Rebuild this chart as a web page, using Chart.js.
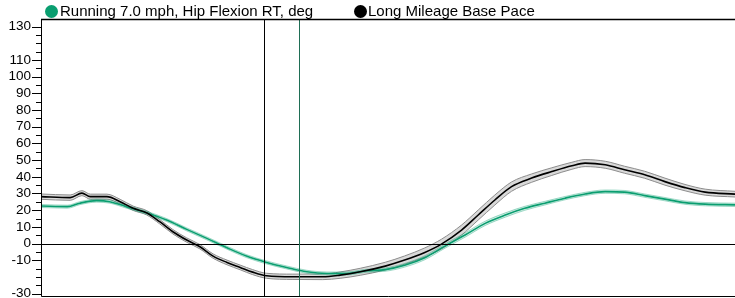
<!DOCTYPE html>
<html>
<head>
<meta charset="utf-8">
<script src="https://cdn.jsdelivr.net/npm/chart.js@4"></script>
<style>
  body { margin: 0; background: #fff; }
  #wrap { position: relative; width: 735px; height: 298px; }
  canvas { display: block; }
  .item { position: absolute; top: 3px; font: 15px 'Liberation Sans', Arial, sans-serif; line-height: 16px; color: #000; white-space: nowrap; }
  .dot { position: absolute; width: 13px; height: 13px; border-radius: 50%; top: 4.5px; }
</style>
</head>
<body>
<div id="wrap">
  <canvas id="hipChart" width="735" height="298"></canvas>
  <span class="dot" style="left:45px; background:#0a9e70;"></span>
  <span class="item" style="left:60px;">Running 7.0 mph, Hip Flexion RT, deg</span>
  <span class="dot" style="left:354px; background:#000;"></span>
  <span class="item" style="left:368px;">Long Mileage Base Pace</span>
</div>
<script>
// % of gait cycle / hip flexion in degrees
const baseX = [0, 4.2, 5.9, 7.1, 9.5, 11.4, 13.3, 15.2, 17.1, 19.0, 21.0, 22.9, 24.8, 26.8, 28.7, 30.5, 32.5, 36.3, 40.6, 43.1, 46.0, 49.6, 52.4, 55.3, 57.7, 60.6, 63.0, 65.4, 67.8, 70.7, 73.6, 76.5, 78.4, 81.3, 84.1, 87.0, 89.9, 92.8, 95.7, 100];
const baseY = [28.1, 27.5, 30.2, 28.1, 28.1, 25.1, 21.1, 18.5, 13.1, 7.1, 2.1, -1.9, -7.5, -11.3, -14.3, -17.1, -19.3, -19.9, -19.9, -18.9, -16.9, -13.5, -9.9, -5.3, -0.3, 8.1, 17.1, 26.1, 34.1, 39.2, 43.1, 46.6, 48.2, 47.2, 44.2, 41.2, 37.1, 33.5, 30.8, 29.6];
const baseSd = [1.6, 1.6, 1.5, 1.5, 1.5, 1.4, 1.3, 1.3, 1.3, 1.3, 1.3, 1.3, 1.3, 1.4, 1.4, 1.5, 1.5, 1.6, 1.7, 1.9, 2.1, 2.3, 2.5, 2.7, 2.9, 3.0, 3.0, 3.0, 2.8, 2.5, 2.3, 2.1, 2.1, 2.1, 2.1, 2.1, 2.1, 1.9, 1.8, 1.7];

const runX = [0, 3.8, 5.6, 8.0, 9.9, 12.3, 15.2, 18.1, 21.0, 23.9, 26.8, 29.6, 32.5, 35.4, 38.3, 41.2, 44.0, 46.9, 49.6, 52.4, 55.3, 58.2, 61.1, 64.0, 66.9, 69.7, 72.6, 75.5, 78.4, 81.3, 84.1, 87.0, 89.9, 92.8, 95.7, 100];
const runY = [22.5, 22.1, 24.2, 25.7, 25.1, 22.1, 18.5, 14.1, 8.5, 3.1, -2.5, -7.5, -11.3, -14.3, -16.9, -17.9, -17.9, -16.3, -15.6, -13.0, -8.5, -1.5, 5.1, 12.1, 17.1, 21.1, 24.2, 27.2, 29.7, 31.1, 30.8, 28.7, 26.6, 24.5, 23.6, 23.2];
const runSd = [0.9, 0.9, 0.9, 0.9, 0.9, 0.9, 0.9, 0.9, 0.9, 0.9, 0.9, 0.9, 0.9, 0.9, 0.9, 0.9, 0.9, 0.9, 1.0, 1.1, 1.2, 1.3, 1.3, 1.3, 1.3, 1.2, 1.1, 1.0, 1.0, 1.0, 1.0, 1.0, 1.0, 1.0, 1.0, 1.0];

const yTickLabels = [130, 110, 100, 90, 80, 70, 60, 50, 40, 30, 20, 10, 0, -10, -30];
const markers = [
  { x: 32.2, color: '#000' },
  { x: 37.2, color: '#1f6e55' }
];

const GREEN = '#0a9e70';

const pts = (xs, ys) => xs.map((x, i) => ({ x: x, y: ys[i] }));
const band = (xs, ys, sd, sign) => xs.map((x, i) => ({ x: x, y: ys[i] + sign * sd[i] }));

// zero line, marker lines, axis frame and tick marks
const frame = {
  id: 'frame',
  afterDatasetsDraw(chart) {
    const { ctx, chartArea: a, scales: { x, y } } = chart;
    ctx.save();
    ctx.lineWidth = 1;
    ctx.strokeStyle = '#000';
    const y0 = Math.round(y.getPixelForValue(0)) + 0.5;
    ctx.beginPath(); ctx.moveTo(a.left, y0); ctx.lineTo(a.right, y0); ctx.stroke();

    markers.forEach(m => {
      const px = Math.round(x.getPixelForValue(m.x)) + 0.5;
      ctx.strokeStyle = m.color;
      ctx.beginPath(); ctx.moveTo(px, a.top); ctx.lineTo(px, a.bottom); ctx.stroke();
    });

    ctx.strokeStyle = '#000';
    ctx.beginPath();
    ctx.moveTo(a.left + 0.5, a.top); ctx.lineTo(a.left + 0.5, a.bottom - 0.5); ctx.lineTo(a.right, a.bottom - 0.5);
    ctx.stroke();
    ctx.lineWidth = 1.5;
    ctx.beginPath(); ctx.moveTo(a.left, a.top + 0.5); ctx.lineTo(a.right, a.top + 0.5); ctx.stroke();

    ctx.lineWidth = 1;
    y.ticks.forEach(t => {
      const py = Math.round(y.getPixelForValue(t.value)) + 0.5;
      const len = yTickLabels.includes(t.value) ? 9 : 5;
      ctx.beginPath(); ctx.moveTo(a.left - len, py); ctx.lineTo(a.left, py); ctx.stroke();
    });
    ctx.restore();
  }
};

Chart.defaults.font.family = "'Liberation Sans', Arial, sans-serif";
Chart.defaults.font.size = 13.5;
Chart.defaults.color = '#000';

new Chart(document.getElementById('hipChart'), {
  type: 'line',
  data: {
    datasets: [
      { data: pts(baseX, baseY), borderColor: '#000', borderWidth: 1.6, order: 0 },
      { data: pts(runX, runY), borderColor: GREEN, borderWidth: 1.6, order: 1 },
      { data: band(baseX, baseY, baseSd, -1), borderColor: '#8c8c8c', borderWidth: 1, order: 3 },
      { data: band(baseX, baseY, baseSd, 1), borderColor: '#8c8c8c', borderWidth: 1, order: 3,
        fill: { target: 2 }, backgroundColor: '#d9d9d9' },
      { data: band(runX, runY, runSd, -1), borderColor: 'rgba(10,158,112,0.35)', borderWidth: 1, order: 2 },
      { data: band(runX, runY, runSd, 1), borderColor: 'rgba(10,158,112,0.35)', borderWidth: 1, order: 2,
        fill: { target: 4 }, backgroundColor: 'rgba(10,158,112,0.18)' }
    ]
  },
  options: {
    responsive: false,
    animation: false,
    layout: { padding: { top: 19, right: 0, bottom: 1, left: 0 } },
    elements: {
      point: { radius: 0 },
      line: { cubicInterpolationMode: 'monotone', fill: false }
    },
    scales: {
      x: { type: 'linear', min: 0, max: 100, display: false },
      y: {
        min: -32, max: 134.5,
        afterBuildTicks: s => {
          const ticks = [];
          for (let v = -30; v <= 130; v += 5) ticks.push({ value: v });
          s.ticks = ticks;
        },
        afterFit: s => { s.width = 41; s.paddingTop = 0; s.paddingBottom = 0; },
        grid: { display: false, drawTicks: false },
        border: { display: false },
        ticks: {
          autoSkip: false, padding: 10,
          callback: v => yTickLabels.includes(v) ? String(v) : ''
        }
      }
    },
    plugins: { legend: { display: false }, tooltip: { enabled: false } }
  },
  plugins: [frame]
});
</script>
</body>
</html>
